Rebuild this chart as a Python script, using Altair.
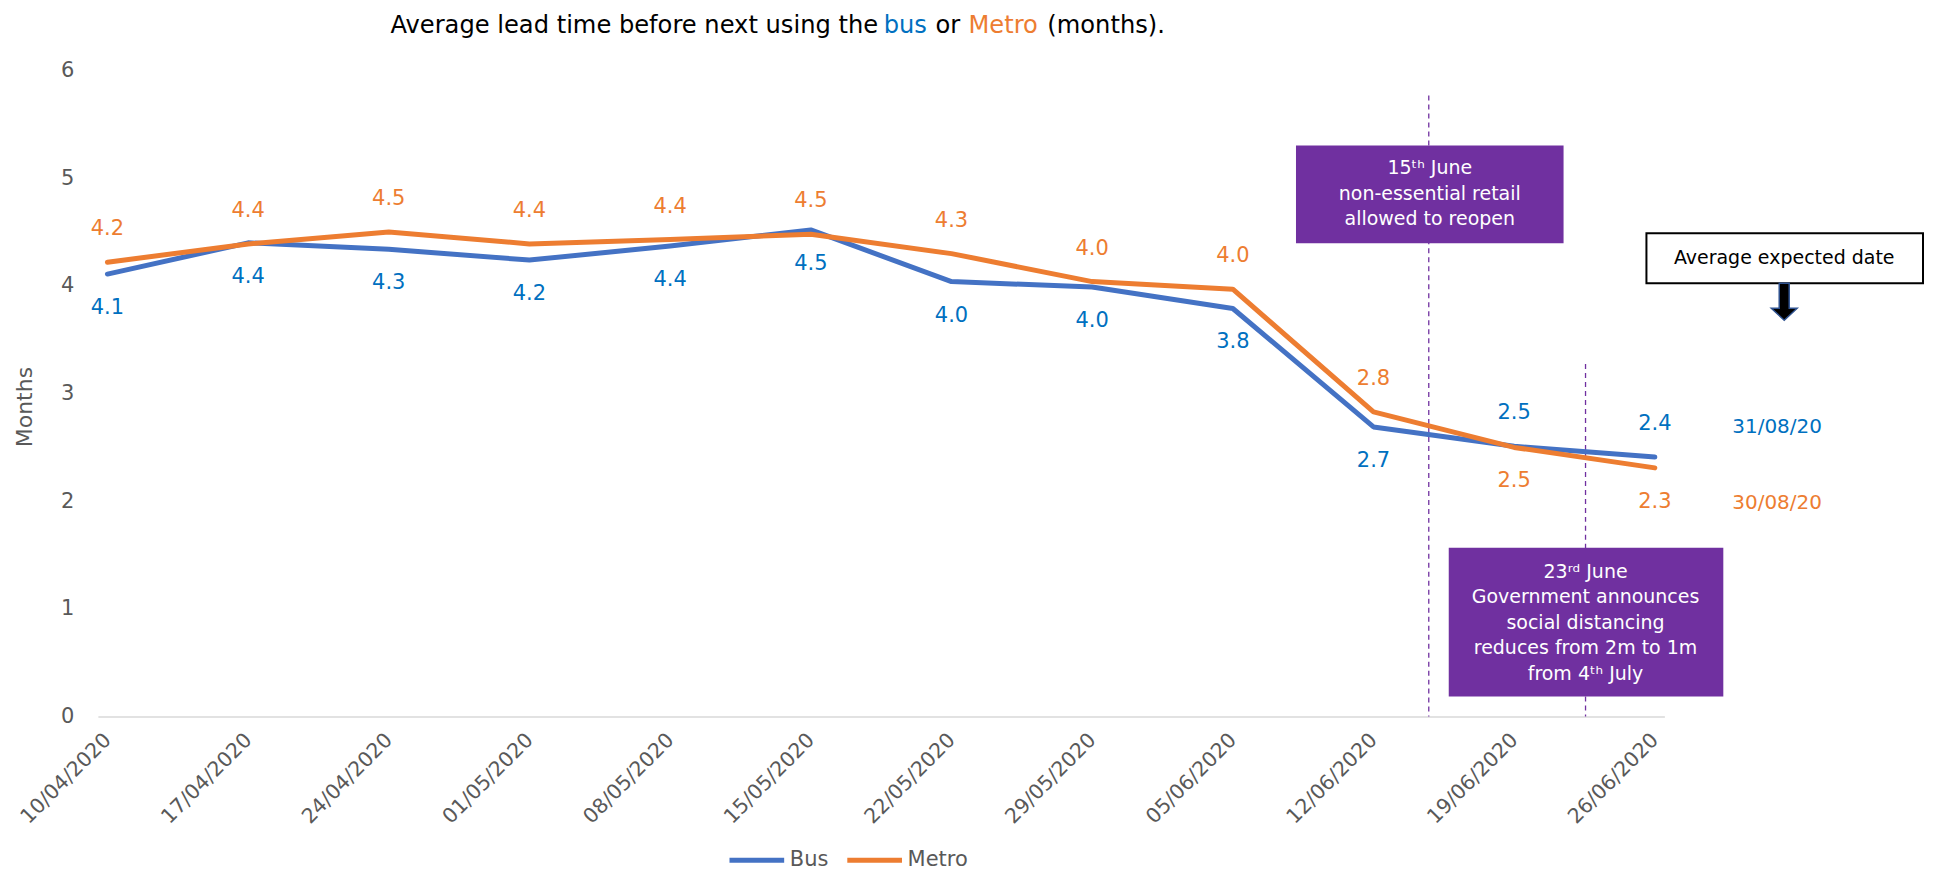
import altair as alt
import pandas as pd

dates = ["10/04/2020", "17/04/2020", "24/04/2020", "01/05/2020", "08/05/2020", "15/05/2020",
         "22/05/2020", "29/05/2020", "05/06/2020", "12/06/2020", "19/06/2020", "26/06/2020"]
bus = [4.11, 4.40, 4.34, 4.24, 4.37, 4.52, 4.04, 3.99, 3.79, 2.69, 2.51, 2.41]
metro = [4.22, 4.39, 4.50, 4.39, 4.43, 4.48, 4.30, 4.04, 3.97, 2.83, 2.50, 2.31]
bus_label_pos = ["below"] * 10 + ["above"] * 2
metro_label_pos = ["above"] * 10 + ["below"] * 2
series = ["Bus", "Metro"]
line_colors = ["#4472C4", "#ED7D31"]
label_colors = ["#0070C0", "#ED7D31"]
y_ticks = [0, 1, 2, 3, 4, 5, 6]

rows = []
for d, v, p in zip(dates, bus, bus_label_pos):
    rows.append({"date": d, "series": "Bus", "value": v, "pos": p})
for d, v, p in zip(dates, metro, metro_label_pos):
    rows.append({"date": d, "series": "Metro", "value": v, "pos": p})
df = pd.DataFrame(rows)

FONT = "DejaVu Sans"
GREY = "#595959"
PURPLE = "#7030A0"

x_enc = alt.X("date:N", sort=dates,
              scale=alt.Scale(type="point", padding=0.068),
              axis=alt.Axis(title=None, labelAngle=-45, labelFontSize=20.5, labelColor=GREY,
                            labelFont=FONT, labelPadding=20, ticks=False, domainColor="#D9D9D9",
                            domainWidth=1.5, grid=False, labelAlign="right", labelBaseline="middle"))
y_enc = alt.Y("value:Q", scale=alt.Scale(domain=[0, 6], nice=False),
              axis=alt.Axis(title=None, values=y_ticks, labelFontSize=21, labelColor=GREY,
                            labelFont=FONT, labelPadding=24, ticks=False, domain=False, grid=False))

base = alt.Chart(df)

lines = base.mark_line(strokeWidth=5, strokeCap="round", strokeJoin="round").encode(
    x=x_enc, y=y_enc,
    color=alt.Color("series:N", scale=alt.Scale(domain=series, range=line_colors),
                    legend=alt.Legend(title=None, orient="none", direction="horizontal",
                                      legendX=630, legendY=761, symbolType="stroke",
                                      symbolSize=3000, symbolStrokeWidth=5,
                                      labelFontSize=21, labelColor=GREY, labelFont=FONT,
                                      columnPadding=8, labelOffset=3, padding=0)),
)

label_color = alt.condition(alt.datum.series == "Bus", alt.value(label_colors[0]), alt.value(label_colors[1]))

labels_above = base.transform_filter(alt.datum.pos == "above").mark_text(
    dy=-33, fontSize=21, font=FONT).encode(
    x=x_enc, y=y_enc, text=alt.Text("value:Q", format=".1f"), color=label_color)
labels_below = base.transform_filter(alt.datum.pos == "below").mark_text(
    dy=34, fontSize=21, font=FONT).encode(
    x=x_enc, y=y_enc, text=alt.Text("value:Q", format=".1f"), color=label_color)

one = pd.DataFrame({"k": [0]})
ann = alt.Chart(one)

rule1 = ann.mark_rule(color=PURPLE, strokeDash=[5, 4], strokeWidth=1.3).encode(
    x=alt.value(1333), y=alt.value(25), y2=alt.value(647))
rule2 = ann.mark_rule(color=PURPLE, strokeDash=[5, 4], strokeWidth=1.3).encode(
    x=alt.value(1490), y=alt.value(294), y2=alt.value(647))

box1 = ann.mark_rect(color=PURPLE).encode(
    x=alt.value(1200), x2=alt.value(1468), y=alt.value(75), y2=alt.value(173))
box1_text = ann.mark_text(color="white", fontSize=19, font=FONT, lineBreak="\n",
                          lineHeight=25.5, align="center", baseline="middle").encode(
    x=alt.value(1334), y=alt.value(98),
    text=alt.value("15ᵗʰ June\nnon-essential retail\nallowed to reopen"))

box2 = ann.mark_rect(color=PURPLE).encode(
    x=alt.value(1353), x2=alt.value(1628), y=alt.value(478), y2=alt.value(627))
box2_text = ann.mark_text(color="white", fontSize=19, font=FONT, lineBreak="\n",
                          lineHeight=25.5, align="center", baseline="middle").encode(
    x=alt.value(1490), y=alt.value(502),
    text=alt.value("23ʳᵈ June\nGovernment announces\nsocial distancing\nreduces from 2m to 1m\nfrom 4ᵗʰ July"))

box3 = ann.mark_rect(fill="white", stroke="black", strokeWidth=2).encode(
    x=alt.value(1551), x2=alt.value(1828), y=alt.value(163), y2=alt.value(213))
box3_text = ann.mark_text(color="black", fontSize=19, font=FONT, align="center",
                          baseline="middle").encode(
    x=alt.value(1689), y=alt.value(188), text=alt.value("Average expected date"))
arrow = ann.mark_point(
    shape="M-0.27,-1L0.27,-1L0.27,0.35L0.7,0.35L0,1L-0.7,0.35L-0.27,0.35Z",
    filled=True, fill="black", stroke="#2F528F", strokeWidth=1.5, opacity=1, size=1369).encode(
    x=alt.value(1689), y=alt.value(231.5))

date_bus = ann.mark_text(color=label_colors[0], fontSize=20, font=FONT, align="left",
                         baseline="middle").encode(
    x=alt.value(1637), y=alt.value(357), text=alt.value("31/08/20"))
date_metro = ann.mark_text(color=label_colors[1], fontSize=20, font=FONT, align="left",
                           baseline="middle").encode(
    x=alt.value(1637), y=alt.value(433), text=alt.value("30/08/20"))

y_title = ann.mark_text(color=GREY, fontSize=22, font=FONT, angle=270, align="center",
                        baseline="middle").encode(
    x=alt.value(-73), y=alt.value(337), text=alt.value("Months"))

title_parts = [
    ("Average lead time before next using the", 293, "black"),
    ("bus", 787, label_colors[0]),
    ("or", 839, "black"),
    ("Metro", 872, label_colors[1]),
    ("(months).", 951, "black"),
]
title_layers = []
for txt, xpos, col in title_parts:
    title_layers.append(ann.mark_text(color=col, fontSize=24.2, font=FONT, align="left",
                                      baseline="middle").encode(
        x=alt.value(xpos), y=alt.value(-45), text=alt.value(txt)))

chart = alt.layer(
    rule1, rule2, lines, labels_above, labels_below,
    box1, box1_text, box2, box2_text, box3, box3_text, arrow,
    date_bus, date_metro, y_title, *title_layers
).properties(
    width=1569, height=647,
    padding={"left": 90, "top": 62, "right": 261, "bottom": 156},
    autosize=alt.AutoSizeParams(type="none"),
).configure_view(stroke=None)

chart.save("out.html", embed_options={"renderer": "svg", "actions": False})
